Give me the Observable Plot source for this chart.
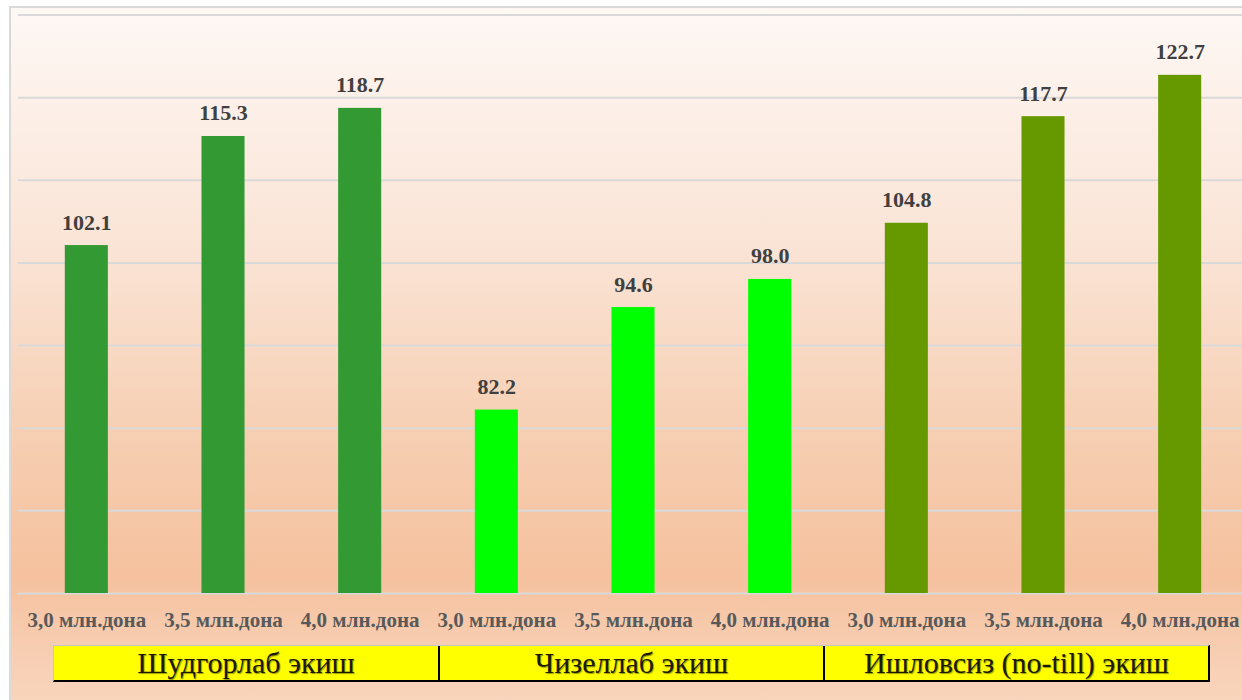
<!DOCTYPE html>
<html>
<head>
<meta charset="utf-8">
<script src="https://cdn.jsdelivr.net/npm/d3@7"></script>
<script src="https://cdn.jsdelivr.net/npm/@observablehq/plot@0.6"></script>
<style>
  html, body { margin: 0; padding: 0; background: #fff; }
  #page { position: relative; width: 1242px; height: 700px; overflow: hidden; background: #fff; }
  #frame { position: absolute; left: 9px; top: 6px; width: 1250px; height: 710px;
    border-left: 2px solid #d9d9d9; border-top: 2px solid #d9d9d9;
    background: linear-gradient(to bottom, #fef8f5 0%, #fae3d4 35%, #f6cdb0 62%, #f5c19e 80%, #f7cdb1 90%, #f9d7c0 100%); }
  #chart { position: absolute; left: 0; top: 0; }
  #groups { position: absolute; left: 53px; top: 645px; height: 37px; display: flex;
    border-top: 1px solid #c8c8c8; border-left: 1px solid #c8c8c8; border-bottom: 2px solid #000; border-right: 2px solid #000;
    box-sizing: border-box; background: #ffff00; }
  #groups div { height: 100%; box-sizing: border-box; display: flex; align-items: center; justify-content: center;
    font-family: "Liberation Serif", "Times New Roman", Times, "DejaVu Serif", serif; font-size: 30px; color: #1a1a00;
    text-shadow: 1px 1px 1px rgba(0,0,0,0.4); }
  #groups div + div { border-left: 2px solid #000; }
  #chart svg text { font-family: "Liberation Serif", "Times New Roman", Times, "DejaVu Serif", serif; }
</style>
</head>
<body>
<div id="page">
  <div id="frame"></div>
  <div id="chart"></div>
  <div id="groups"></div>
</div>
<script>
const groups = ["Шудгорлаб экиш", "Чизеллаб экиш", "Ишловсиз (no-till) экиш"];
const densities = ["3,0 млн.дона", "3,5 млн.дона", "4,0 млн.дона"];
const values = [
  [102.1, 115.3, 118.7],
  [82.2, 94.6, 98.0],
  [104.8, 117.7, 122.7]
];
const colors = ["#339933", "#00ff00", "#669900"];
const gridTicks = [60, 70, 80, 90, 100, 110, 120, 130];

const data = [];
groups.forEach((g, gi) => densities.forEach((d, di) => {
  data.push({key: `${gi}|${d}`, group: g, density: d, value: values[gi][di], color: colors[gi]});
}));

const serif = "'Liberation Serif', 'Times New Roman', Times, serif";

const chart = Plot.plot({
  width: 1242,
  height: 640,
  marginLeft: 18,
  marginRight: 0,
  marginTop: 14,
  marginBottom: 47,
  style: {background: "transparent", overflow: "visible", fontFamily: serif},
  x: {domain: data.map(d => d.key), range: [18, 1248], paddingInner: 0.685, paddingOuter: 0.3425, align: 0.5, round: false},
  y: {domain: [60, 130], range: [593, 14.5]},
  marks: [
    Plot.ruleY(gridTicks, {stroke: "#d9d9d9", strokeWidth: 2}),
    Plot.barY(data, {x: "key", y1: 60, y2: "value", fill: "color"}),
    Plot.text(data, {x: "key", y: "value", text: d => d3.format(".1f")(d.value), dy: -16, lineAnchor: "bottom",
      fontFamily: serif, fontWeight: "bold", fontSize: 22, fill: "#404040"}),
    Plot.axisX({tickSize: 0, tickPadding: 19, tickFormat: k => k.split("|")[1], label: null,
      fontFamily: serif, fontWeight: "bold", fontSize: 21, fill: "#595959"}),
    Plot.axisY({ticks: [], label: null, tickSize: 0})
  ]
});
document.getElementById("chart").appendChild(chart);

const g = document.getElementById("groups");
const widths = [384, 385, 385];
groups.forEach((name, i) => {
  const c = document.createElement("div");
  c.style.width = widths[i] + "px";
  c.textContent = name;
  g.appendChild(c);
});
</script>
</body>
</html>
